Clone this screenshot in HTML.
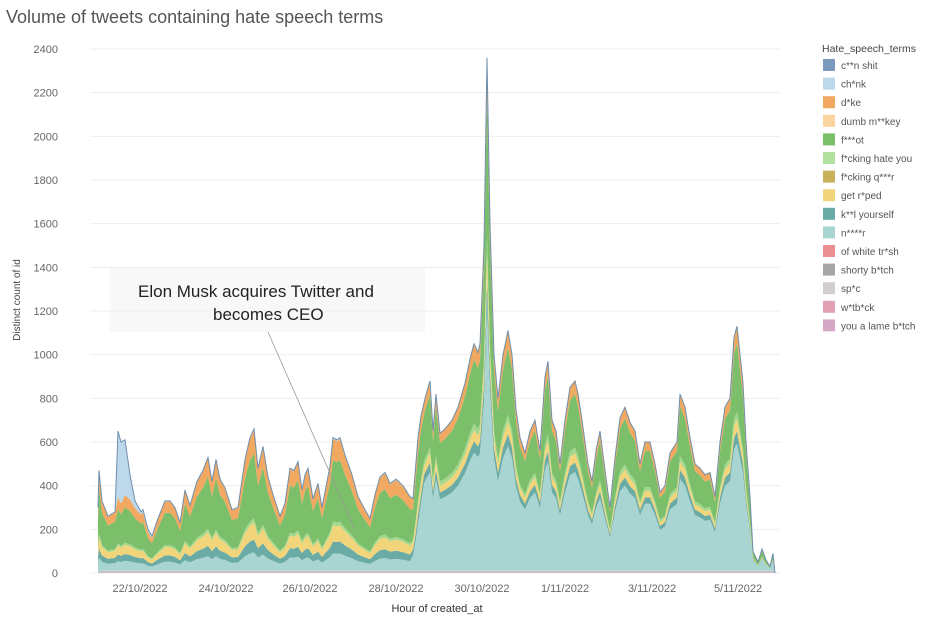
<!DOCTYPE html>
<html><head><meta charset="utf-8"><style>
body{margin:0;background:#fff;width:950px;height:618px;overflow:hidden;font-family:"Liberation Sans",sans-serif;}
</style></head><body>
<svg id="s" width="950" height="618" xmlns="http://www.w3.org/2000/svg" font-family="Liberation Sans, sans-serif">
<text x="6" y="23" font-size="18" fill="#555">Volume of tweets containing hate speech terms</text>
<g id="grid"></g>
<g id="areas"></g>
<rect x="110" y="268" width="315" height="64" fill="#f4f4f4" opacity="0.6"/>
<text x="138" y="297" font-size="17" fill="#222">Elon Musk acquires Twitter and</text>
<text x="213" y="320" font-size="17" fill="#222">becomes CEO</text>
<line x1="268" y1="332" x2="355" y2="530" stroke="#999" stroke-width="0.8"/>
<text transform="translate(20,300) rotate(-90)" font-size="10" fill="#444" text-anchor="middle">Distinct count of id</text>
<text x="437" y="612" font-size="11" fill="#333" text-anchor="middle">Hour of created_at</text>
<g id="xl" font-size="11" fill="#666" text-anchor="middle">
<text x="140" y="592">22/10/2022</text><text x="226" y="592">24/10/2022</text><text x="310" y="592">26/10/2022</text><text x="396" y="592">28/10/2022</text><text x="482" y="592">30/10/2022</text><text x="565" y="592">1/11/2022</text><text x="652" y="592">3/11/2022</text><text x="738" y="592">5/11/2022</text>
</g>
<g id="leg" font-size="10" fill="#555"></g>
</svg>
<script>
var ns="http://www.w3.org/2000/svg";
function el(t,a,p){var e=document.createElementNS(ns,t);for(var k in a)e.setAttribute(k,a[k]);if(p)p.appendChild(e);return e;}
var Y=function(v){return 573-v*524/2400;};
var g=document.getElementById('grid');
for(var v=0;v<=2400;v+=200){el('line',{x1:90,x2:780,y1:Y(v),y2:Y(v),stroke:'#eee','stroke-width':1},g);
var t=el('text',{x:58,y:Y(v)+4,'font-size':11,fill:'#666','text-anchor':'end'},g);t.textContent=v;}
var P=[[98,300],[99,470],[102,330],[108,260],[115,280],[118,650],[121,600],[125,610],[130,450],[135,330],[141,280],[143,290],[148,200],[152,170],[158,250],[165,330],[170,330],[175,300],[180,230],[185,380],[190,310],[197,420],[203,470],[208,530],[212,420],[216,520],[220,430],[225,390],[232,290],[238,300],[245,520],[250,620],[254,660],[258,480],[263,580],[268,440],[273,360],[280,260],[285,320],[290,480],[294,470],[298,510],[302,380],[305,450],[308,480],[313,340],[318,410],[322,300],[330,490],[333,620],[337,610],[340,620],[345,540],[352,450],[358,350],[365,290],[370,250],[375,360],[380,440],[385,460],[390,410],[396,430],[403,400],[410,350],[413,340],[418,620],[421,720],[425,800],[430,880],[433,650],[436,820],[440,640],[445,660],[452,700],[458,760],[465,870],[470,980],[474,1050],[478,1010],[480,1050],[484,1500],[487,2360],[490,1600],[494,1000],[498,800],[503,1000],[508,1110],[512,1000],[516,750],[520,620],[525,550],[530,650],[535,700],[540,560],[545,900],[548,970],[552,700],[556,650],[560,500],[565,700],[570,850],[575,880],[578,820],[582,700],[588,500],[592,420],[596,560],[600,650],[605,470],[610,300],[615,530],[620,710],[625,760],[630,690],[635,650],[640,500],[645,600],[650,600],[655,500],[660,370],[665,400],[670,550],[677,600],[680,820],[685,760],[690,620],[695,500],[700,480],[705,450],[710,460],[715,350],[720,600],[725,760],[730,800],[734,1080],[737,1130],[740,1000],[743,870],[746,600],[750,350],[753,100],[758,50],[762,110],[766,60],[770,30],[773,90],[775,0]];
var C=[[98,0],[115,0],[118,300],[125,250],[130,110],[135,30],[141,10],[150,10],[160,0],[775,0]];
function interp(A,x){for(var i=1;i<A.length;i++){if(x<=A[i][0]){var a=A[i-1],b=A[i];var f=(x-a[0])/(b[0]-a[0]||1);return a[1]+f*(b[1]-a[1]);}}return A[A.length-1][1];}
// fractions before / after
var before=[0.13,0.09,0.12,0.03,0.46,0.16],after=[0.52,0.05,0.05,0.03,0.28,0.07];
var cols=['#a8d5d2','#6aaba6','#f2d57a','#a5d88f','#7bbf6a','#f1a860'];
var xs=[];for(var x=98;x<=775;x+=1)xs.push(x);
var layers=[];// arrays of cumulative
var base=xs.map(function(){return 0;});
function addLayer(vals,col){var top=base.map(function(b,i){return b+vals[i];});
var d='M'+xs[0]+','+Y(base[0]);
for(var i=0;i<xs.length;i++)d+='L'+xs[i]+','+Y(top[i]).toFixed(1);
for(var i=xs.length-1;i>=0;i--)d+='L'+xs[i]+','+Y(base[i]).toFixed(1);
el('path',{d:d+'Z',fill:col},document.getElementById('areas'));base=top;}
var T=xs.map(function(x){return interp(P,x);});
var CH=xs.map(function(x){return Math.min(interp(C,x),interp(P,x));});
var grey=xs.map(function(x,i){return Math.min(10,T[i]);});
addLayer(grey,'#c9c2c4');
for(var k=0;k<6;k++){
 var vals=xs.map(function(x,i){var f=Math.max(0,Math.min(1,(x-410)/14));var fr=before[k]*(1-f)+after[k]*f;return Math.max(0,(T[i]-CH[i]-grey[i]))*fr;});
 addLayer(vals,cols[k]);
}
addLayer(xs.map(function(x,i){return Math.max(0,T[i]-base[i]);}),'#bcd8ea');
var d='M'+xs[0]+','+Y(T[0]);for(var i=1;i<xs.length;i++)d+='L'+xs[i]+','+Y(T[i]).toFixed(1);
el('path',{d:d,fill:'none',stroke:'#6e8fae','stroke-width':1},document.getElementById('areas'));
var L=[['c**n shit','#7b9bbd'],['ch*nk','#bcd8ea'],['d*ke','#f1a860'],['dumb m**key','#fbd59e'],['f***ot','#7bbf6a'],['f*cking hate you','#b2e09f'],['f*cking q***r','#c9b15a'],['get r*ped','#f2d57a'],['k**l yourself','#6aaba6'],['n****r','#a8d5d2'],['of white tr*sh','#ec8f92'],['shorty b*tch','#a6a6a6'],['sp*c','#d3cece'],['w*tb*ck','#e2a0b5'],['you a lame b*tch','#d4a8c4']];
var lg=document.getElementById('leg');
var tt=el('text',{x:822,y:52,'font-size':10.5,fill:'#444'},lg);tt.textContent='Hate_speech_terms';
L.forEach(function(l,i){var y=59+i*18.6;el('rect',{x:823,y:y,width:12,height:12,fill:l[1]},lg);var t=el('text',{x:841,y:y+10},lg);t.textContent=l[0];});
</script>
</body></html>
